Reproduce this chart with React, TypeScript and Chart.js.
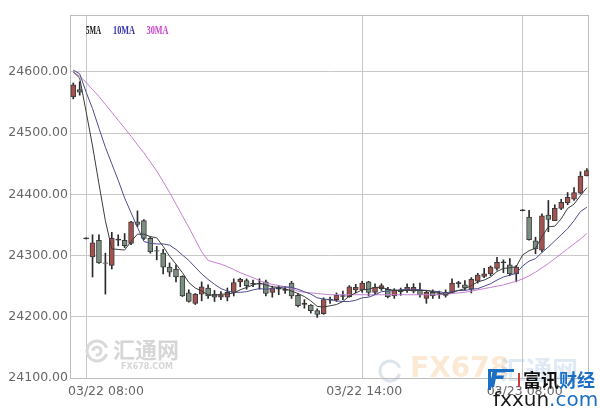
import React, { useEffect, useRef } from "react";
import { Chart, registerables } from "chart.js";

Chart.register(...registerables);

// ---- data ----
const xLabels = ["03/22 08:00", "03/22 14:00", "03/23 08:00"];
const xLabelIndex = [2, 45, 70];
const yTicks = [24100, 24200, 24300, 24400, 24500, 24600];
const yMin = 24100;
const yMax = 24693;
const maNames = ["5MA", "10MA", "30MA"];

const opens = [
  24559, 24571, 24328, 24298, 24325, 24288, 24284, 24326, 24325, 24320,
  24355, 24357, 24328, 24308, 24304, 24281, 24278, 24266, 24239, 24222,
  24237, 24247, 24237, 24232, 24232, 24240, 24257, 24259, 24254, 24254,
  24257, 24240, 24246, 24244, 24255, 24235, 24221, 24219, 24210, 24205,
  24228, 24228, 24234, 24233, 24244, 24244, 24257, 24240, 24246, 24245,
  24234, 24244, 24243, 24242, 24244, 24230, 24240, 24237, 24240, 24240,
  24255, 24252, 24245, 24258, 24266, 24270, 24279, 24289, 24285, 24270,
  24374, 24363, 24324, 24309, 24366, 24357, 24377, 24386, 24392, 24402,
  24430,
];
const closes = [
  24579, 24567, 24328, 24321, 24288, 24287, 24328, 24326, 24316, 24355,
  24351, 24328, 24306, 24307, 24281, 24273, 24265, 24234, 24225, 24237,
  24249, 24234, 24232, 24236, 24240, 24256, 24261, 24251, 24254, 24254,
  24238, 24247, 24246, 24244, 24234, 24218, 24221, 24210, 24204, 24228,
  24228, 24235, 24234, 24249, 24248, 24255, 24240, 24248, 24251, 24233,
  24244, 24241, 24248, 24248, 24236, 24240, 24234, 24237, 24235, 24255,
  24255, 24247, 24261, 24268, 24270, 24281, 24289, 24289, 24270, 24281,
  24374, 24326, 24311, 24365, 24359, 24377, 24387, 24395, 24403, 24430,
  24439,
];
const highs = [
  24582, 24584, 24329, 24334, 24334, 24304, 24338, 24334, 24336, 24356,
  24373, 24359, 24331, 24315, 24310, 24288, 24285, 24267, 24244, 24238,
  24257, 24252, 24243, 24241, 24247, 24262, 24263, 24262, 24260, 24262,
  24260, 24250, 24251, 24249, 24258, 24238, 24228, 24220, 24213, 24231,
  24232, 24239, 24242, 24251, 24253, 24258, 24258, 24254, 24254, 24248,
  24246, 24247, 24254, 24254, 24255, 24243, 24244, 24242, 24244, 24262,
  24258, 24259, 24264, 24271, 24279, 24283, 24297, 24293, 24295, 24284,
  24375, 24374, 24330, 24368, 24390, 24383, 24392, 24403, 24411, 24437,
  24442,
];
const lows = [
  24556, 24562, 24327, 24265, 24287, 24237, 24278, 24316, 24313, 24318,
  24347, 24326, 24304, 24293, 24270, 24266, 24257, 24233, 24224, 24220,
  24226, 24230, 24225, 24228, 24226, 24234, 24249, 24245, 24249, 24245,
  24234, 24232, 24236, 24238, 24230, 24216, 24214, 24206, 24199, 24204,
  24222, 24225, 24228, 24232, 24239, 24240, 24234, 24236, 24243, 24231,
  24230, 24235, 24240, 24239, 24232, 24222, 24230, 24230, 24232, 24239,
  24248, 24244, 24239, 24255, 24264, 24267, 24276, 24272, 24267, 24257,
  24373, 24325, 24303, 24306, 24339, 24357, 24375, 24383, 24390, 24401,
  24430,
];

const ma5 = [
  24600, 24590, 24535, 24479, 24417, 24357, 24311, 24310, 24309, 24323,
  24335, 24335, 24331, 24329, 24315, 24299, 24286, 24272, 24256, 24247,
  24242, 24236, 24235, 24237, 24237, 24239, 24244, 24248, 24252, 24255,
  24252, 24249, 24248, 24246, 24242, 24238, 24233, 24226, 24217, 24216,
  24218, 24220, 24225, 24234, 24239, 24244, 24245, 24248, 24248, 24245,
  24243, 24243, 24243, 24243, 24243, 24243, 24241, 24239, 24236, 24240,
  24243, 24246, 24251, 24257, 24260, 24265, 24274, 24279, 24280, 24282,
  24301, 24308, 24312, 24331, 24347, 24348, 24360, 24377, 24384, 24398,
  24411,
];
const ma10 = [
  24603, 24597, 24567, 24540, 24508, 24477, 24450, 24423, 24394, 24370,
  24346, 24323, 24320, 24319, 24319, 24317, 24310, 24301, 24292, 24281,
  24270, 24261, 24253, 24246, 24242, 24240, 24240, 24241, 24244, 24246,
  24245, 24246, 24248, 24249, 24248, 24245, 24241, 24237, 24231, 24229,
  24228, 24226, 24225, 24225, 24227, 24231, 24232, 24236, 24241, 24242,
  24243, 24244, 24245, 24245, 24244, 24243, 24242, 24241, 24239, 24241,
  24243, 24243, 24245, 24246, 24250, 24254, 24260, 24265, 24268, 24271,
  24283, 24291, 24295, 24305, 24314, 24324, 24334, 24344, 24357, 24372,
  24379,
];
const ma30 = [
  24600, 24593, 24583, 24571, 24560, 24547, 24534, 24521, 24508, 24495,
  24481, 24468, 24453, 24438, 24421, 24403, 24384, 24365, 24346, 24326,
  24306, 24292, 24289, 24286, 24282, 24277, 24272, 24268, 24264, 24259,
  24255, 24253, 24251, 24249, 24246, 24242, 24240, 24239, 24238, 24237,
  24236, 24236, 24236, 24236, 24236, 24236, 24236, 24236, 24236, 24236,
  24236, 24236, 24236, 24236, 24236, 24236, 24236, 24236, 24237, 24238,
  24239, 24240, 24242, 24244, 24246, 24248, 24250, 24252, 24255, 24258,
  24262, 24267, 24273, 24280, 24287, 24295, 24303, 24311, 24319, 24327,
  24336,
];

// ---- styles ----
const UP = "#a4524e";
const DOWN = "#7b8f80";
const FLAT = "#333333";
const GRID = "#c8c8c8";
const LINE_COLORS = ["#3c3c3c", "#4d4d8e", "#c57fd0"];
const LEGEND_COLORS = ["#111111", "#3535b0", "#cc3fcc"];
const FONT = "DejaVu Sans";

const frame = {
  id: "frame",
  beforeDatasetsDraw(chart: any) {
    const { ctx, chartArea: a } = chart;
    ctx.save();
    // faint watermarks
    ctx.strokeStyle = "#dadada";
    ctx.lineWidth = 3;
    ctx.beginPath();
    ctx.arc(97, 351, 10, 0.3, Math.PI * 1.9);
    ctx.stroke();
    ctx.beginPath();
    ctx.arc(97, 351, 4, Math.PI, Math.PI * 2.6);
    ctx.stroke();
    ctx.fillStyle = "#d6d6d6";
    ctx.textBaseline = "middle";
    ctx.font = 'bold 22px "Noto Sans CJK SC"';
    ctx.fillText("汇通网", 113, 350);
    ctx.font = "bold 8px " + FONT;
    ctx.fillText("FX678.COM", 121, 367);

    ctx.strokeStyle = "rgba(200,210,225,0.6)";
    ctx.beginPath();
    ctx.arc(390, 371, 10, 0.3, Math.PI * 1.9);
    ctx.stroke();
    ctx.fillStyle = "rgba(248,196,140,0.38)";
    ctx.font = "bold 28px " + FONT;
    ctx.fillText("FX678", 410, 370);
    ctx.fillStyle = "rgba(170,200,230,0.38)";
    ctx.font = 'bold 26px "Noto Sans CJK SC"';
    ctx.fillText("汇通网", 500, 370);

    // plot frame
    ctx.strokeStyle = "#bdbdbd";
    ctx.lineWidth = 1;
    ctx.strokeRect(
      Math.round(a.left) + 0.5,
      Math.round(a.top) + 0.5,
      Math.round(a.right - a.left) - 1,
      Math.round(a.bottom - a.top)
    );
    ctx.restore();
  },
  afterDraw(chart: any) {
    const { ctx, chartArea: a, scales } = chart;
    ctx.save();
    // legend
    ctx.textBaseline = "middle";
    ctx.font = 'bold 12px "Liberation Serif"';
    const lx = [16, 43, 76.5];
    const lw = [15, 22, 22];
    maNames.forEach((n, i) => {
      ctx.fillStyle = LEGEND_COLORS[i];
      ctx.fillText(n, a.left + lx[i], a.top + 16, lw[i]);
    });
    // x labels
    ctx.font = "12.5px " + FONT;
    ctx.fillStyle = "#666666";
    xLabels.forEach((t, i) => {
      const px = scales.x.getPixelForValue(xLabelIndex[i]) + 2;
      const w = ctx.measureText(t).width;
      const left = Math.max(px - w / 2, a.left - 2);
      ctx.fillText(t, left, 392);
    });
    // brand logo
    ctx.fillStyle = "#1a6fc4";
    ctx.font = "bold italic 25px " + FONT;
    ctx.fillText("F", 489, 380);
    ctx.fillRect(488, 369, 3, 21);
    ctx.fillRect(488, 369, 26, 3);
    ctx.fillStyle = "#d23a3a";
    ctx.fillRect(518, 373, 2, 14);
    ctx.font = 'bold 18px "Noto Sans CJK SC"';
    ctx.fillStyle = "#111111";
    ctx.fillText("富讯", 523, 380);
    const w1 = ctx.measureText("富讯").width;
    ctx.fillStyle = "#1a6fc4";
    ctx.fillText("财经", 523 + w1, 380);
    ctx.font = "20px " + FONT;
    ctx.fillStyle = "#1a1a1a";
    ctx.fillText("fxxun", 493, 401);
    const w2 = ctx.measureText("fxxun").width;
    ctx.fillStyle = "#1a6fc4";
    ctx.fillText(".com", 493 + w2, 401);
    ctx.restore();
  },
};

export default function App() {
  const ref = useRef<HTMLCanvasElement | null>(null);

  useEffect(() => {
    if (!ref.current) return;
    const idx = opens.map((_, i) => i);
    const bodies = idx.map((i) => {
      const o = opens[i];
      const c = closes[i];
      return {
        x: i,
        y: o === c ? [o - 0.8, o + 0.8] : [Math.min(o, c), Math.max(o, c)],
      };
    });
    const bodyColors = idx.map((i) =>
      closes[i] > opens[i] ? UP : closes[i] < opens[i] ? DOWN : FLAT
    );
    const bodyBorders = idx.map((i) => (closes[i] === opens[i] ? FLAT : "#3a3a3a"));
    const wicks = idx.map((i) => ({ x: i, y: [lows[i], highs[i]] }));
    const maSets = [ma5, ma10, ma30];

    const chart = new Chart(ref.current, {
      type: "bar",
      data: {
        datasets: [
          ...maSets.map((arr, k) => ({
            type: "line" as const,
            label: maNames[k],
            data: arr.map((v, i) => ({ x: i, y: v })),
            borderColor: LINE_COLORS[k],
            borderWidth: 1,
            pointRadius: 0,
            fill: false,
            tension: 0,
            order: k,
          })),
          {
            type: "bar" as const,
            label: "body",
            data: bodies as any,
            backgroundColor: bodyColors,
            borderColor: bodyBorders,
            borderWidth: 1,
            borderSkipped: false,
            barThickness: 5,
            grouped: false,
            order: 5,
          },
          {
            type: "bar" as const,
            label: "wick",
            data: wicks as any,
            backgroundColor: "#2a2a2a",
            borderWidth: 0,
            barThickness: 1,
            grouped: false,
            order: 6,
          },
        ],
      },
      options: {
        responsive: false,
        animation: false,
        events: [],
        layout: { padding: { top: 15, right: 11, left: 0, bottom: 0 } },
        plugins: { legend: { display: false }, tooltip: { enabled: false } },
        scales: {
          x: {
            type: "linear",
            offset: false,
            min: -0.51,
            max: 80.33,
            afterBuildTicks: (s: any) => {
              s.ticks = xLabelIndex.map((v) => ({ value: v }));
            },
            afterFit: (s: any) => {
              s.height = 32;
            },
            ticks: { display: false },
            grid: { color: GRID, drawTicks: false, offset: false },
            border: { display: false },
          },
          y: {
            type: "linear",
            min: yMin,
            max: yMax,
            afterBuildTicks: (s: any) => {
              s.ticks = yTicks.map((v) => ({ value: v }));
            },
            afterFit: (s: any) => {
              s.width = 70;
            },
            ticks: {
              padding: 2,
              color: "#666666",
              font: { family: FONT, size: 12.5 },
              callback: (v: any) => Number(v).toFixed(2),
            },
            grid: { color: GRID, drawTicks: false },
            border: { display: false },
          },
        },
      },
      plugins: [frame],
    } as any);
    return () => chart.destroy();
  }, []);

  return (
    <div style={{ position: "absolute", left: 0, top: 0, width: 600, height: 410, background: "#fff" }}>
      <canvas ref={ref} width={600} height={410} style={{ display: "block" }} />
    </div>
  );
}
